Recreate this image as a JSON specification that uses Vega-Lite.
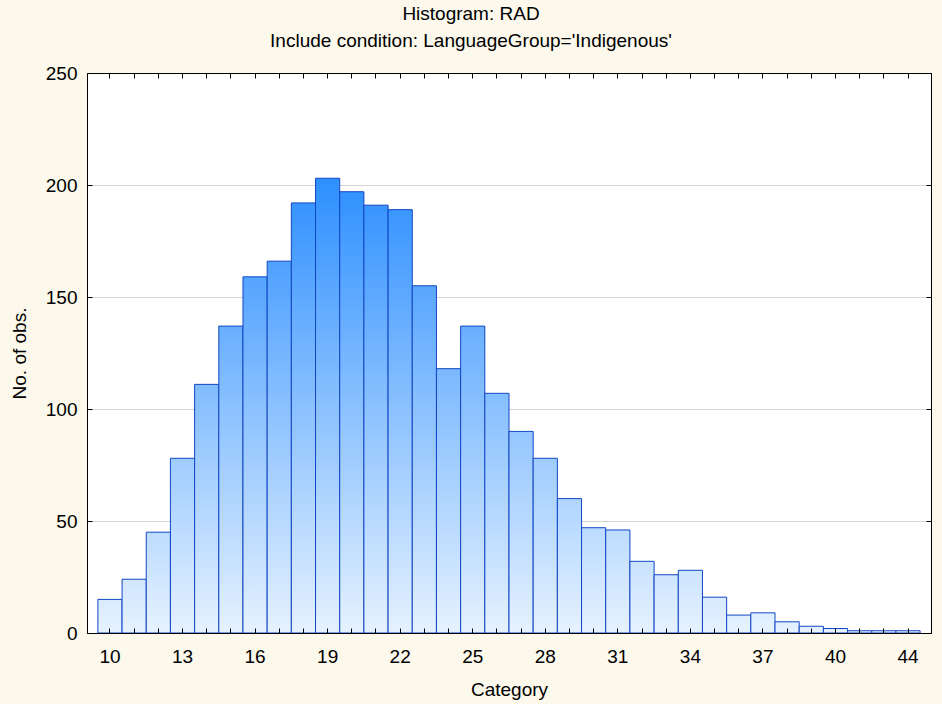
{
  "$schema": "https://vega.github.io/schema/vega-lite/v6.json",
  "autosize": "none",
  "width": 844,
  "height": 560,
  "padding": {"left": 87, "top": 73, "right": 11, "bottom": 71},
  "background": "#FCF8EC",
  "title": {
    "text": ["Histogram: RAD", "Include condition: LanguageGroup='Indigenous'"],
    "font": "Liberation Sans",
    "fontSize": 19,
    "fontWeight": "normal",
    "color": "#000000",
    "lineHeight": 27,
    "anchor": "middle",
    "dx": -38,
    "offset": 13
  },
  "config": {
    "view": {"fill": "#FFFFFF", "stroke": "#000000", "strokeWidth": 1},
    "axis": {
      "labelFont": "Liberation Sans",
      "titleFont": "Liberation Sans",
      "labelFontSize": 19,
      "titleFontSize": 19,
      "titleFontWeight": "normal",
      "labelColor": "#000000",
      "titleColor": "#000000",
      "domainColor": "#000000",
      "tickColor": "#000000",
      "tickSize": -5,
      "tickWidth": 1,
      "domainWidth": 1
    }
  },
  "data": {
    "values": [
      {"Category": "10", "count": 15},
      {"Category": "11", "count": 24},
      {"Category": "12", "count": 45},
      {"Category": "13", "count": 78},
      {"Category": "14", "count": 111},
      {"Category": "15", "count": 137},
      {"Category": "16", "count": 159},
      {"Category": "17", "count": 166},
      {"Category": "18", "count": 192},
      {"Category": "19", "count": 203},
      {"Category": "20", "count": 197},
      {"Category": "21", "count": 191},
      {"Category": "22", "count": 189},
      {"Category": "23", "count": 155},
      {"Category": "24", "count": 118},
      {"Category": "25", "count": 137},
      {"Category": "26", "count": 107},
      {"Category": "27", "count": 90},
      {"Category": "28", "count": 78},
      {"Category": "29", "count": 60},
      {"Category": "30", "count": 47},
      {"Category": "31", "count": 46},
      {"Category": "32", "count": 32},
      {"Category": "33", "count": 26},
      {"Category": "34", "count": 28},
      {"Category": "35", "count": 16},
      {"Category": "36", "count": 8},
      {"Category": "37", "count": 9},
      {"Category": "38", "count": 5},
      {"Category": "39", "count": 3},
      {"Category": "40", "count": 2},
      {"Category": "41", "count": 1},
      {"Category": "42", "count": 1},
      {"Category": "44", "count": 1}
    ]
  },
  "resolve": {"axis": {"x": "independent", "y": "independent"}},
  "layer": [
    {
      "mark": {
        "type": "bar",
        "fill": {"expr": "{gradient: 'linear', x1: 0, y1: 0, x2: 0, y2: 1, stops: [{offset: 0, color: 'rgb(' + round(230 - 185 * datum.count / 203) + ',' + round(242 - 99 * datum.count / 203) + ',255)'}, {offset: 1, color: 'rgb(230,242,254)'}]}"},
        "stroke": "#1246C4",
        "strokeWidth": 1
      },
      "encoding": {
        "x": {
          "field": "Category",
          "type": "ordinal",
          "sort": null,
          "scale": {"paddingInner": 0, "paddingOuter": 0.45},
          "axis": {
            "orient": "bottom",
            "title": "Category",
            "labelAngle": 0,
            "labelBaseline": "alphabetic",
            "labelPadding": 34,
            "labelExpr": "indexof(['10','13','16','19','22','25','28','31','34','37','40','44'], datum.value) >= 0 ? datum.label : ''",
            "titleBaseline": "alphabetic",
            "titleY": 62,
            "zindex": 1
          }
        },
        "y": {
          "field": "count",
          "type": "quantitative",
          "scale": {"domain": [0, 250], "nice": false},
          "axis": {
            "orient": "left",
            "title": "No. of obs.",
            "values": [0, 50, 100, 150, 200, 250],
            "labelPadding": 15,
            "grid": true,
            "gridColor": "#D3D3D3",
            "gridWidth": 1,
            "titleX": -68,
            "titleBaseline": "middle",
            "zindex": 0
          }
        }
      }
    },
    {
      "mark": {"type": "bar", "opacity": 0},
      "encoding": {
        "x": {
          "field": "Category",
          "type": "ordinal",
          "sort": null,
          "axis": {"orient": "top", "title": null, "labels": false, "zindex": 1}
        },
        "y": {
          "field": "count",
          "type": "quantitative",
          "axis": {"orient": "right", "title": null, "labels": false, "values": [0, 50, 100, 150, 200, 250], "grid": false, "zindex": 1}
        }
      }
    }
  ]
}
